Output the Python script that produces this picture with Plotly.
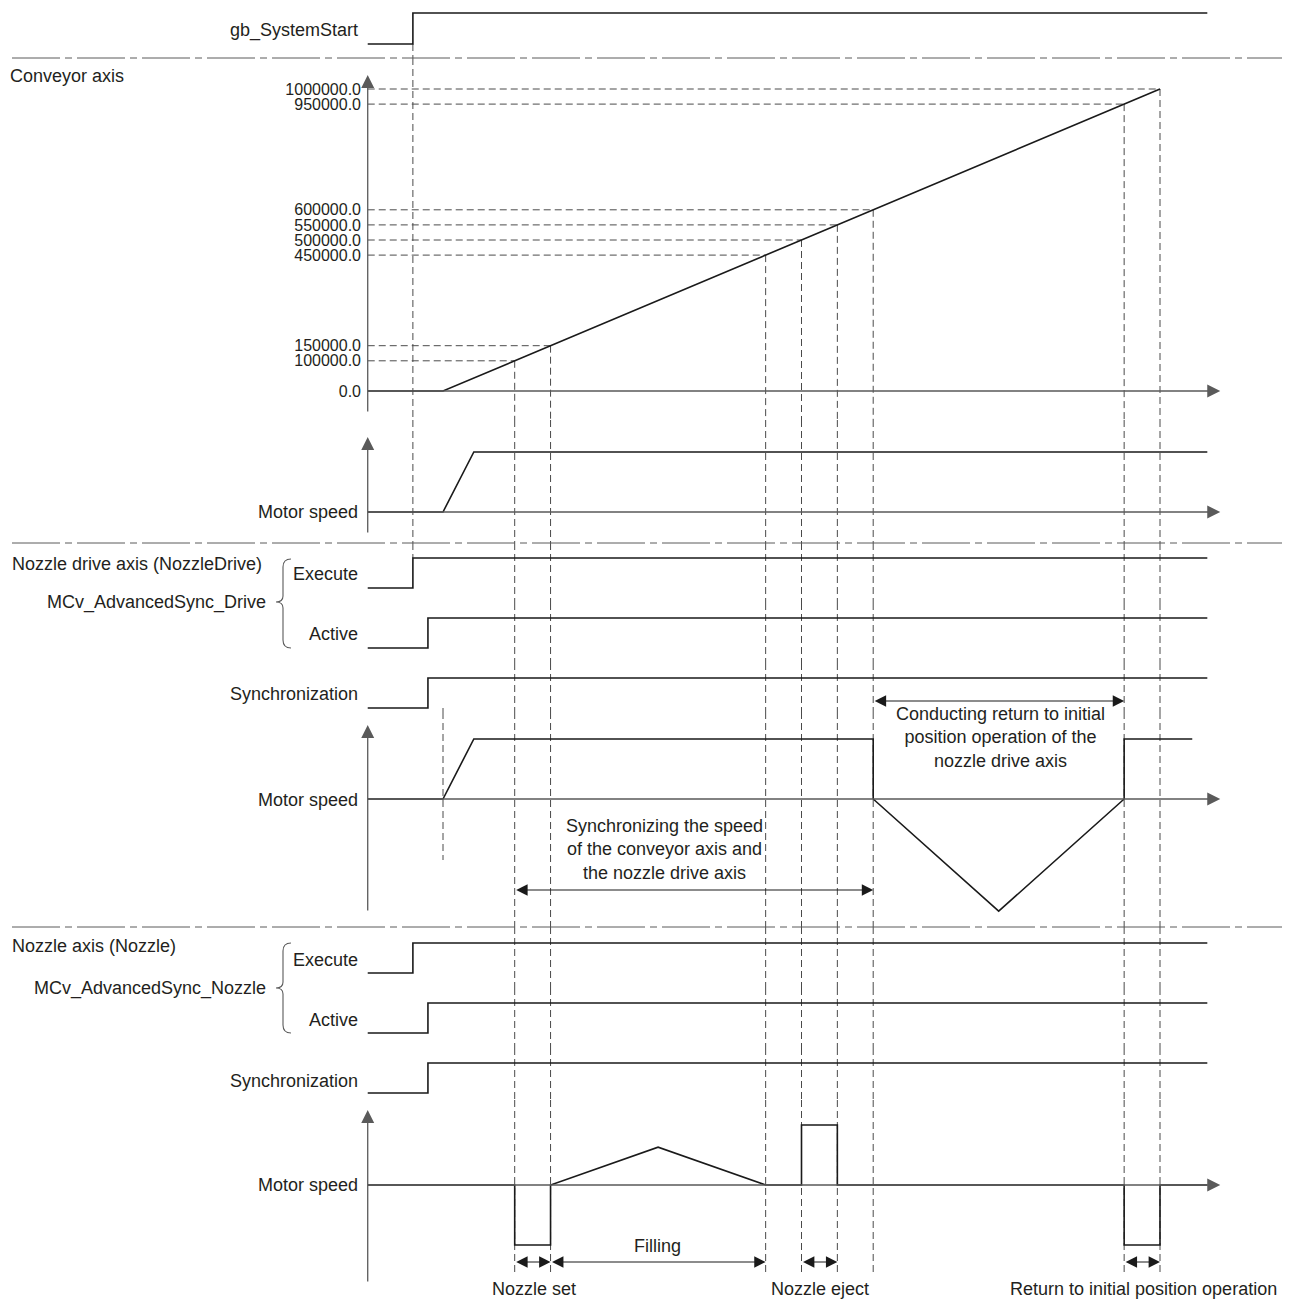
import plotly.graph_objects as go

# ---------------------------------------------------------------- data
# time in arbitrary units: the conveyor starts at t = 0 and then moves 100000.0 per unit
t_origin = -1.05          # left end of every time axis
t_system_start = -0.42    # gb_SystemStart / Execute rise
t_active = -0.21          # Active / Synchronization rise
t_accel_end = 0.43        # motors reach constant speed
t_signal_end = 10.66
t_drive_end = 10.45
t_axis_end = 10.84

guide_positions = [100000.0, 150000.0, 450000.0, 500000.0, 550000.0, 600000.0, 950000.0, 1000000.0]
guide_times = [1.0, 1.5, 4.5, 5.0, 5.5, 6.0, 9.5, 10.0]
position_ticks = [0.0, 100000.0, 150000.0, 450000.0, 500000.0, 550000.0, 600000.0, 950000.0, 1000000.0]
position_tick_labels = ["0.0", "100000.0", "150000.0", "450000.0", "500000.0",
                        "550000.0", "600000.0", "950000.0", "1000000.0"]

conveyor_pos_t = [t_origin, 0.0, 10.0]
conveyor_pos = [0.0, 0.0, 1000000.0]

conveyor_speed_t = [t_origin, 0.0, t_accel_end, t_signal_end]
conveyor_speed = [0.0, 0.0, 1.0, 1.0]

drive_speed_t = [t_origin, 0.0, t_accel_end, 6.0, 6.0, 7.75, 9.5, 9.5, t_drive_end]
drive_speed = [0.0, 0.0, 1.0, 1.0, 0.0, -1.87, 0.0, 1.0, 1.0]

nozzle_speed_t = [t_origin, 1.0, 1.0, 1.5, 1.5, 3.0, 4.5, 5.0, 5.0, 5.5, 5.5, 9.5, 9.5, 10.0, 10.0, t_signal_end]
nozzle_speed = [0.0, 0.0, -1.0, -1.0, 0.0, 0.63, 0.0, 0.0, 1.0, 1.0, 0.0, 0.0, -1.0, -1.0, 0.0, 0.0]

start_bit_t = [t_origin, t_system_start, t_system_start, t_signal_end]
active_bit_t = [t_origin, t_active, t_active, t_signal_end]
bit_levels = [0, 0, 1, 1]

sync_span = (1.0, 6.0)
return_span = (6.0, 9.5)
nozzle_spans = [(1.0, 1.5), (1.5, 4.5), (5.0, 5.5), (9.5, 10.0)]

# ---------------------------------------------------------------- layout constants
W, H = 1291, 1300
X0_PX, PX_PER_T = 443.0, 71.7
FONT = "Liberation Sans, Arial, sans-serif"
TXT = "#231f20"
SIG = "#1a1a1a"
AXC = "#5a5a5a"
GUIDE = "#4a4a4a"

# name, band top px, band bottom px, px of value 0, px per unit
LANES = [
    ("sys", 0, 58, 44, 31.0),
    ("cpos", 58, 420, 391, 302.0 / 1e6),
    ("cspd", 420, 543, 512, 60.0),
    ("dexe", 543, 603, 588, 30.0),
    ("dact", 603, 663, 648, 30.0),
    ("dsyn", 663, 712, 708, 30.0),
    ("dspd", 712, 927, 799, 60.0),
    ("nexe", 927, 988, 973, 30.0),
    ("nact", 988, 1048, 1033, 30.0),
    ("nsyn", 1048, 1100, 1093, 30.0),
    ("nspd", 1100, 1300, 1185, 60.0),
]
LI = {}
for i, (n, top, bot, zero, ppu) in enumerate(LANES):
    LI[n] = dict(i=i, top=top, bot=bot, zero=zero, ppu=ppu,
                 ref="y" if i == 0 else f"y{i+1}",
                 key="yaxis" if i == 0 else f"yaxis{i+1}")


def val(lane, py):
    L = LI[lane]
    return (L["zero"] - py) / L["ppu"]


def px2t(px):
    return (px - X0_PX) / PX_PER_T


def P(px, py):
    return px / W, 1 - py / H


fig = go.Figure()
shapes, annotations = [], []

# ---------------------------------------------------------------- axes
layout_axes = {}
for n, top, bot, zero, ppu in LANES:
    L = LI[n]
    ax = dict(domain=[1 - bot / H, 1 - top / H], range=[val(n, bot), val(n, top)],
              visible=False, anchor="x", fixedrange=True, showgrid=False, zeroline=False)
    if n == "cpos":
        ax.update(visible=True, anchor="free", position=368 / W, showline=False, ticks="",
                  tickmode="array", tickvals=position_ticks, ticktext=position_tick_labels,
                  tickfont=dict(family=FONT, size=16, color=TXT), ticklabelstandoff=7)
    layout_axes[L["key"]] = ax


# ---------------------------------------------------------------- traces
def line(lane, xs, ys):
    fig.add_trace(go.Scatter(x=xs, y=ys, mode="lines", xaxis="x", yaxis=LI[lane]["ref"],
                             line=dict(color=SIG, width=1.6), cliponaxis=False,
                             hoverinfo="skip", showlegend=False))


# dashed guides
def hguide(lane, t, v):
    shapes.append(dict(type="line", xref="x", yref=LI[lane]["ref"], x0=t_origin, x1=t, y0=v, y1=v,
                       line=dict(color=GUIDE, width=1, dash="7px,4px"), layer="below"))


def vguide(t, start, end):
    (la, va), (lb, vb) = start, end
    ia, ib = LI[la]["i"], LI[lb]["i"]
    for i in range(ia, ib + 1):
        n = LANES[i][0]
        L = LI[n]
        y0 = va if i == ia else val(n, L["top"])
        y1 = vb if i == ib else val(n, L["bot"])
        shapes.append(dict(type="line", xref="x", yref=L["ref"], x0=t, x1=t, y0=y0, y1=y1,
                           line=dict(color=GUIDE, width=1, dash="7px,4px"), layer="below"))


for p, t in zip(guide_positions, guide_times):
    hguide("cpos", t, p)
    vguide(t, ("cpos", p), ("nspd", val("nspd", 1275)))
vguide(t_system_start, ("sys", 0), ("dexe", 1))
vguide(0.0, ("dsyn", 0), ("dspd", val("dspd", 860)))


# axis arrows (horizontal + vertical)
def arrow(lane, x, y, axv, ayv, color=AXC, width=1.3, size=2.0):
    ref = LI[lane]["ref"]
    annotations.append(dict(x=x, y=y, ax=axv, ay=ayv, xref="x", yref=ref, axref="x",
                            ayref=ref, text="", showarrow=True,
                            arrowhead=2, arrowsize=size, arrowwidth=width, arrowcolor=color,
                            standoff=0))


for lane, tip, bottom in [("cpos", 75, 413), ("cspd", 437, 534), ("dspd", 725, 912), ("nspd", 1110, 1283)]:
    arrow(lane, t_axis_end, 0, t_origin, 0)
    arrow(lane, t_origin, val(lane, tip), t_origin, val(lane, bottom))

# signals
line("sys", start_bit_t, bit_levels)
line("cpos", conveyor_pos_t, conveyor_pos)
line("cspd", conveyor_speed_t, conveyor_speed)
line("dexe", start_bit_t, bit_levels)
line("dact", active_bit_t, bit_levels)
line("dsyn", active_bit_t, bit_levels)
line("dspd", drive_speed_t, drive_speed)
line("nexe", start_bit_t, bit_levels)
line("nact", active_bit_t, bit_levels)
line("nsyn", active_bit_t, bit_levels)
line("nspd", nozzle_speed_t, nozzle_speed)


# span arrows (paper y, pixel offset 0)
def span(t0, t1, py):
    annotations.append(dict(x=t1, y=1 - py / H, ax=t0, ay=0, xref="x", yref="paper", axref="x",
                            ayref="pixel", text="", showarrow=True, arrowhead=2, arrowsize=1.9,
                            arrowwidth=1.2, arrowcolor=SIG, standoff=0, arrowside="end+start",
                            startarrowhead=2, startarrowsize=1.9, startstandoff=0))


span(sync_span[0], sync_span[1], 890)
span(return_span[0], return_span[1], 701)
for a, b in nozzle_spans:
    span(a, b, 1262)

# separators
for py in [58, 543, 927]:
    shapes.append(dict(type="line", xref="paper", yref="paper", x0=12 / W, x1=1282 / W,
                       y0=1 - py / H, y1=1 - py / H,
                       line=dict(color=AXC, width=1, dash="48px,5px,7px,5px")))


# braces
def brace(x, ytop, ymid, ybot):
    xi, xo, xt = x, x + 8, x - 7

    def p(a, b):
        q = P(a, b)
        return f"{q[0]},{q[1]}"
    path = (f"M {p(xo, ytop)} Q {p(xi, ytop)} {p(xi, ytop + 8)} "
            f"L {p(xi, ymid - 6)} Q {p(xi, ymid)} {p(xt, ymid)} "
            f"Q {p(xi, ymid)} {p(xi, ymid + 6)} "
            f"L {p(xi, ybot - 8)} Q {p(xi, ybot)} {p(xo, ybot)}")
    shapes.append(dict(type="path", xref="paper", yref="paper", path=path,
                       line=dict(color=AXC, width=1.1)))


brace(283, 559, 602, 648)
brace(283, 943, 988, 1033)


# texts
def text(s, px, py, xa="right", size=18):
    x, y = P(px, py)
    annotations.append(dict(x=x, y=y, xref="paper", yref="paper", text=s, showarrow=False,
                            xanchor=xa, yanchor="middle", align="center",
                            font=dict(family=FONT, size=size, color=TXT)))


text("gb_SystemStart", 360, 30)
text("Conveyor axis", 8, 76, "left")
text("Motor speed", 360, 512)
text("Nozzle drive axis (NozzleDrive)", 10, 564, "left")
text("MCv_AdvancedSync_Drive", 268, 602)
text("Execute", 360, 574)
text("Active", 360, 634)
text("Synchronization", 360, 694)
text("Motor speed", 360, 800)
text("Conducting return to initial<br>position operation of the<br>nozzle drive axis", 1000, 737, "center")
text("Synchronizing the speed<br>of the conveyor axis and<br>the nozzle drive axis", 664, 849, "center")
text("Nozzle axis (Nozzle)", 10, 946, "left")
text("MCv_AdvancedSync_Nozzle", 268, 988)
text("Execute", 360, 960)
text("Active", 360, 1020)
text("Synchronization", 360, 1081)
text("Motor speed", 360, 1185)
text("Filling", 658, 1246, "center")
text("Nozzle set", 534, 1289, "center")
text("Nozzle eject", 820, 1289, "center")
text("Return to initial position operation", 1143, 1289, "center")

fig.update_layout(
    template="none", width=W, height=H, margin=dict(l=0, r=0, t=0, b=0),
    paper_bgcolor="white", plot_bgcolor="rgba(0,0,0,0)", showlegend=False,
    xaxis=dict(domain=[0, 1], range=[px2t(0), px2t(W)], visible=False, fixedrange=True),
    shapes=shapes, annotations=annotations, **layout_axes,
)
fig.write_html(
    "out.html",
    config={"displayModeBar": False},
    post_script="document.body.style.margin='0';document.body.style.padding='0';"
                "document.documentElement.style.overflow='hidden';",
)
